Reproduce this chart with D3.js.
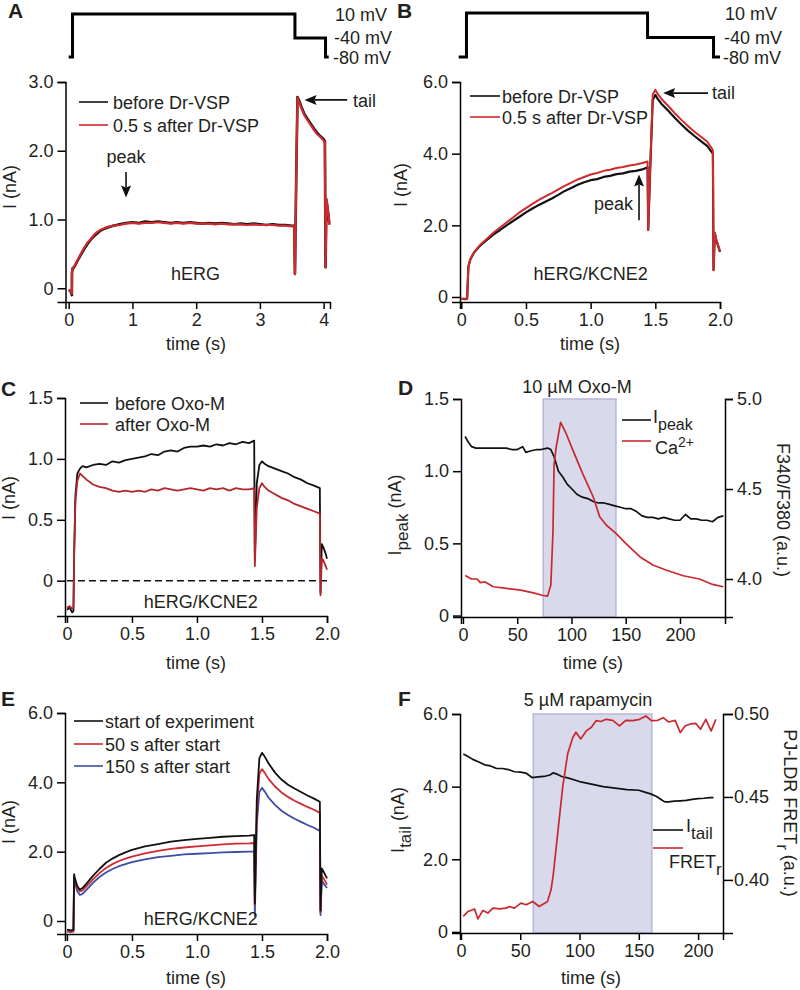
<!DOCTYPE html>
<html><head><meta charset="utf-8">
<script src="https://cdn.jsdelivr.net/npm/d3@7"></script>
<style>body{margin:0;background:#fff}</style>
</head><body><script>
// ---------------- DATA ----------------
const voltLevels = [10, -40, -80];
const voltLabels = ["10 mV", "-40 mV", "-80 mV"];
const protoATime = [0, 0.06, 0.06, 3.55, 3.55, 4.03, 4.03, 4.08];
const protoAVolt = [-80, -80, 10, 10, -40, -40, -80, -80];
const protoBTime = [-0.02, 0.04, 0.04, 1.44, 1.44, 1.95, 1.95, 2.0];
const protoBVolt = [-80, -80, 10, 10, -40, -40, -80, -80];

const tA = [0,0.03,0.05,0.052,0.06,0.08,0.1,0.15,0.2,0.25,0.3,0.35,0.4,0.45,0.5,0.55,0.6,0.7,0.8,0.9,1.0,1.1,1.2,1.3,1.4,1.5,1.6,1.7,1.8,1.9,2.0,2.1,2.2,2.3,2.4,2.5,2.6,2.7,2.8,2.9,3.0,3.1,3.2,3.3,3.4,3.5,3.54,3.55,3.57,3.59,3.62,3.65,3.7,3.75,3.8,3.85,3.9,3.95,4.0,4.02,4.03,4.045,4.07,4.09];
const aBefore = [-0.03,-0.04,-0.1,0.22,0.28,0.3,0.33,0.42,0.5,0.58,0.65,0.71,0.76,0.8,0.84,0.86,0.88,0.91,0.93,0.95,0.96,0.95,0.97,0.96,0.97,0.96,0.95,0.96,0.95,0.96,0.95,0.94,0.95,0.94,0.95,0.94,0.93,0.94,0.93,0.94,0.93,0.92,0.93,0.92,0.92,0.91,0.91,0.21,1.6,2.78,2.72,2.64,2.53,2.46,2.39,2.32,2.26,2.21,2.17,2.14,0.31,1.28,1.1,0.94];
const aAfter = [-0.03,-0.03,-0.08,0.24,0.3,0.31,0.34,0.43,0.52,0.6,0.67,0.72,0.78,0.82,0.85,0.87,0.89,0.91,0.92,0.94,0.95,0.94,0.95,0.95,0.96,0.95,0.94,0.95,0.94,0.95,0.94,0.94,0.94,0.93,0.94,0.93,0.93,0.93,0.92,0.93,0.92,0.92,0.92,0.91,0.91,0.9,0.9,0.2,1.6,2.77,2.7,2.62,2.51,2.44,2.37,2.3,2.24,2.2,2.15,2.12,0.3,1.3,1.12,0.92];

const tB = [0,0.03,0.045,0.05,0.055,0.07,0.1,0.15,0.2,0.25,0.3,0.35,0.4,0.45,0.5,0.55,0.6,0.65,0.7,0.75,0.8,0.85,0.9,0.95,1.0,1.05,1.1,1.15,1.2,1.25,1.3,1.35,1.4,1.44,1.445,1.46,1.48,1.5,1.52,1.55,1.6,1.65,1.7,1.75,1.8,1.85,1.9,1.945,1.95,1.96,1.97,2.0];
const bBefore = [-0.05,-0.06,-0.05,0.4,0.85,1.05,1.25,1.45,1.6,1.75,1.87,2.0,2.12,2.24,2.36,2.47,2.57,2.66,2.75,2.85,2.96,3.04,3.13,3.2,3.26,3.29,3.35,3.38,3.43,3.45,3.5,3.52,3.56,3.62,1.87,3.5,5.5,5.64,5.52,5.38,5.2,5.0,4.82,4.65,4.5,4.36,4.22,4.0,0.75,1.78,1.6,1.26];
const bAfter = [-0.05,-0.05,-0.05,0.4,0.85,1.05,1.26,1.47,1.63,1.8,1.94,2.08,2.22,2.36,2.48,2.6,2.71,2.81,2.9,3.0,3.1,3.19,3.28,3.35,3.42,3.46,3.52,3.55,3.6,3.63,3.67,3.7,3.74,3.78,1.87,3.6,5.65,5.78,5.66,5.52,5.33,5.13,4.95,4.78,4.62,4.48,4.34,4.1,0.75,1.8,1.62,1.28];

const tC = [0,0.02,0.04,0.05,0.055,0.065,0.08,0.1,0.12,0.15,0.2,0.25,0.3,0.35,0.4,0.45,0.5,0.55,0.6,0.65,0.7,0.75,0.8,0.85,0.9,0.95,1.0,1.05,1.1,1.15,1.2,1.25,1.3,1.35,1.4,1.44,1.445,1.46,1.48,1.5,1.52,1.55,1.6,1.65,1.7,1.75,1.8,1.85,1.9,1.945,1.95,1.96,1.97,1.99,2.0];
const cBefore = [-0.24,-0.22,-0.26,-0.25,0.2,0.7,0.88,0.92,0.94,0.93,0.95,0.96,0.95,0.98,0.97,0.99,1.0,1.01,1.02,1.04,1.03,1.06,1.07,1.06,1.09,1.1,1.1,1.11,1.1,1.12,1.11,1.13,1.12,1.14,1.13,1.15,0.17,0.8,0.95,0.98,0.96,0.94,0.92,0.9,0.88,0.85,0.83,0.8,0.78,0.76,-0.1,0.3,0.28,0.22,0.18];
const cAfter = [-0.22,-0.21,-0.23,-0.22,0.2,0.65,0.82,0.88,0.86,0.83,0.79,0.77,0.76,0.74,0.73,0.74,0.73,0.74,0.73,0.75,0.74,0.76,0.75,0.74,0.75,0.76,0.75,0.74,0.76,0.75,0.76,0.74,0.76,0.75,0.75,0.76,0.12,0.6,0.76,0.8,0.77,0.74,0.71,0.68,0.66,0.63,0.61,0.59,0.57,0.55,-0.12,0.18,0.17,0.12,0.09];

const tDpeak = [2,5,8,12,20,30,40,45,50,55,58,62,68,72,78,81,84,88,92,96,100,105,110,115,120,125,130,135,140,145,150,155,160,165,170,175,180,185,190,195,200,205,210,215,220,225,230,235,240];
const dIpeak = [1.24,1.2,1.17,1.16,1.16,1.16,1.16,1.15,1.15,1.17,1.13,1.14,1.15,1.15,1.16,1.15,1.1,1.0,0.96,0.91,0.88,0.84,0.82,0.81,0.79,0.78,0.78,0.77,0.76,0.75,0.74,0.74,0.72,0.69,0.68,0.68,0.67,0.68,0.67,0.66,0.66,0.7,0.67,0.67,0.66,0.66,0.65,0.68,0.69];
const tDca = [2,8,13,16,20,28,40,52,64,73,78,81,83,84,86,90,95,101,110,120,126,132,141,150,163,175,187,203,218,230,240];
const dCa = [4.02,4.0,4.0,3.98,3.985,3.957,3.948,3.94,3.924,3.91,3.905,3.967,4.27,4.64,4.735,4.87,4.81,4.72,4.59,4.457,4.346,4.3,4.254,4.198,4.124,4.078,4.05,4.018,4.0,3.97,3.957];
const oxoWindow = [74, 141];

const tE = [0,0.03,0.05,0.055,0.06,0.08,0.1,0.12,0.15,0.2,0.25,0.3,0.35,0.4,0.45,0.5,0.6,0.7,0.8,0.9,1.0,1.1,1.2,1.3,1.4,1.44,1.445,1.46,1.48,1.5,1.52,1.55,1.6,1.65,1.7,1.75,1.8,1.85,1.9,1.945,1.95,1.96,1.97,1.99,2.0];
const eStart = [-0.25,-0.27,-0.25,1.35,1.25,1.0,0.9,0.95,1.08,1.3,1.5,1.68,1.8,1.9,1.98,2.05,2.15,2.22,2.29,2.33,2.37,2.4,2.43,2.45,2.46,2.48,0.5,3.5,4.7,4.85,4.75,4.55,4.28,4.08,3.93,3.82,3.72,3.62,3.53,3.44,0.3,1.52,1.45,1.3,1.23];
const e50 = [-0.3,-0.3,-0.3,1.3,1.2,0.95,0.85,0.88,1.0,1.2,1.38,1.53,1.64,1.73,1.8,1.86,1.95,2.02,2.08,2.12,2.15,2.18,2.21,2.23,2.24,2.25,0.45,3.2,4.25,4.38,4.28,4.1,3.88,3.71,3.58,3.47,3.38,3.29,3.21,3.12,0.25,1.3,1.25,1.12,1.05];
const e150 = [-0.3,-0.32,-0.3,1.2,1.1,0.85,0.75,0.78,0.9,1.1,1.27,1.4,1.5,1.58,1.64,1.7,1.78,1.84,1.88,1.92,1.94,1.96,1.98,1.99,2.0,2.0,0.15,2.8,3.72,3.84,3.74,3.56,3.35,3.18,3.06,2.95,2.86,2.77,2.69,2.6,0.17,1.18,1.1,1.0,0.95];

const tFtail = [2,6,10,15,20,25,30,35,40,45,50,55,60,65,70,75,78,82,85,90,100,110,120,130,140,150,155,160,165,170,172,175,180,185,190,195,200,205,210,213];
const fItail = [4.9,4.83,4.75,4.68,4.6,4.57,4.5,4.5,4.47,4.41,4.4,4.37,4.25,4.27,4.28,4.32,4.38,4.33,4.28,4.24,4.14,4.07,4.0,3.96,3.92,3.9,3.85,3.8,3.73,3.62,3.58,3.58,3.6,3.61,3.62,3.65,3.67,3.68,3.7,3.7];
const tFret = [2,6,11.5,14.3,18.5,22.7,27,32.6,38,41,45,50.6,55,60.5,66,73,76,78,81.6,85.8,90,94.4,97,101,106,110,114,118,122.5,128,133.7,139,145,150.6,156,160.6,166,170.6,175,180.7,185,189,193.5,198,202,206.5,211,215];
const fFret = [0.378,0.381,0.3825,0.3765,0.3816,0.380,0.383,0.3825,0.383,0.384,0.383,0.386,0.385,0.387,0.384,0.387,0.394,0.404,0.428,0.456,0.476,0.486,0.489,0.485,0.49,0.492,0.496,0.4955,0.4968,0.4962,0.4928,0.4962,0.496,0.4968,0.4988,0.496,0.4962,0.4978,0.4952,0.4962,0.4888,0.4928,0.494,0.4944,0.4908,0.4968,0.4898,0.4968];
const rapaWindow = [61, 161];

const ticksA_x = [0,1,2,3,4], ticksA_y = [0,1,2,3];
const ticksB_x = [0,0.5,1,1.5,2], ticksB_y = [0,2,4,6];
const ticksC_y = [0,0.5,1,1.5];
const ticksD_x = [0,50,100,150,200], ticksD_y2 = [4.0,4.5,5.0];
const ticksE_y = [0,2,4,6];
const ticksF_y2 = [0.40,0.45,0.50];

// ---------------- DRAWING ----------------
const FONT = '"Liberation Sans", Arial, Helvetica, sans-serif';
const FS = 18;
const TXT = "#231f20";
const BLACK = "#111";
const RED = "#d02a2e";
const DARKRED = "#b3262b";
const BLUE = "#3d4ca6";

const svg = d3.select("body").append("svg").attr("width", 800).attr("height", 990)
  .style("background", "#fff").attr("font-family", FONT);

function fmt1(d){ return d === 0 ? "0" : d3.format(".1f")(d); }
function fmt0(d){ return String(d); }

function style(g){
  g.selectAll("path.domain, line").attr("stroke", "#000").attr("stroke-width", 1.5);
  g.selectAll("text").attr("font-size", FS).attr("fill", TXT).attr("font-family", FONT);
}
function bottomAxis(x, y0, ticks, f){
  const g = svg.append("g").attr("transform", `translate(0,${y0})`)
    .call(d3.axisBottom(x).tickValues(ticks).tickFormat(f).tickSizeOuter(0).tickSize(7).tickPadding(4));
  style(g); return g;
}
function leftAxis(y, x0, ticks, f){
  const g = svg.append("g").attr("transform", `translate(${x0},0)`)
    .call(d3.axisLeft(y).tickValues(ticks).tickFormat(f).tickSizeOuter(0).tickSize(8).tickPadding(4));
  style(g); return g;
}
function rightAxis(y, x0, ticks, f, size, pad){
  const g = svg.append("g").attr("transform", `translate(${x0},0)`)
    .call(d3.axisRight(y).tickValues(ticks).tickFormat(f).tickSizeOuter(0).tickSize(size).tickPadding(pad));
  style(g); return g;
}
function trace(x, y, ts, vs, color, w){
  svg.append("path").datum(ts.map((t, i) => [t, vs[i]]))
    .attr("d", d3.line().x(d => x(d[0])).y(d => y(d[1])))
    .attr("fill", "none").attr("stroke", color).attr("stroke-width", w)
    .attr("stroke-linejoin", "round");
}
function text(x, y, s, opt = {}){
  return svg.append("text").attr("x", x).attr("y", y).text(s)
    .attr("font-size", opt.size || FS).attr("fill", TXT)
    .attr("font-weight", opt.bold ? "bold" : null)
    .attr("text-anchor", opt.anchor || "start");
}
function rich(x, y, parts, opt = {}){
  const t = svg.append("text").attr("font-size", FS).attr("fill", TXT)
    .attr("text-anchor", opt.anchor || "start");
  if (opt.rotate) t.attr("transform", `translate(${x},${y}) rotate(${opt.rotate})`);
  else t.attr("x", x).attr("y", y);
  parts.forEach(p => {
    const ts = t.append("tspan").text(p.s);
    if (p.dy) ts.attr("dy", p.dy);
    if (p.dx) ts.attr("dx", p.dx);
    if (p.size) ts.attr("font-size", p.size);
  });
  return t;
}
function legendLine(x1, x2, y, color){
  svg.append("line").attr("x1", x1).attr("x2", x2).attr("y1", y).attr("y2", y)
    .attr("stroke", color).attr("stroke-width", 1.6);
}
function arrow(x1, y1, x2, y2){
  const ang = Math.atan2(y2 - y1, x2 - x1), L = 12, H = 5;
  const bx = x2 - L * Math.cos(ang), by = y2 - L * Math.sin(ang);
  svg.append("line").attr("x1", x1).attr("y1", y1).attr("x2", bx + 2*Math.cos(ang)).attr("y2", by + 2*Math.sin(ang))
    .attr("stroke", "#111").attr("stroke-width", 1.6);
  const px = -Math.sin(ang) * H, py = Math.cos(ang) * H;
  svg.append("path").attr("d", `M${x2},${y2}L${bx+px},${by+py}L${bx+2*Math.cos(ang)},${by+2*Math.sin(ang)}L${bx-px},${by-py}Z`)
    .attr("fill", "#111");
}
function protocol(x, v, ts, vs, labelX){
  svg.append("path").datum(ts.map((t, i) => [t, vs[i]]))
    .attr("d", d3.line().x(d => x(d[0])).y(d => v(d[1])))
    .attr("fill", "none").attr("stroke", "#000").attr("stroke-width", 3).attr("stroke-linejoin", "miter");
  voltLevels.forEach((lv, i) => text(labelX - i, v(lv) + 6.5, voltLabels[i]));
}

// ----- Panel A -----
const xA = d3.scaleLinear().domain([-0.05, 4.1]).range([65.5, 330]);
const yA = d3.scaleLinear().domain([-0.2, 3.0]).range([302, 82]);
const vA = d3.scaleLinear().domain([-80, 10]).range([57, 14]);
text(8, 18, "A", {bold: true, size: 21});
protocol(xA, vA, protoATime, protoAVolt, 335);
bottomAxis(xA, 302, ticksA_x, fmt0);
leftAxis(yA, 65.5, ticksA_y, fmt1);
trace(xA, yA, tA, aBefore, BLACK, 2.6);
trace(xA, yA, tA, aAfter, RED, 2.2);
legendLine(79, 108, 102, BLACK); text(113, 108.5, "before Dr-VSP");
legendLine(79, 108, 125, RED); text(113, 131.5, "0.5 s after Dr-VSP");
text(xA(0.9), 163, "peak", {anchor: "middle"});
arrow(xA(0.9), yA(1.69), xA(0.9), yA(1.32));
arrow(xA(4.37), yA(2.74), xA(3.7), yA(2.74));
text(353, 107, "tail");
text(xA(1.99), 280, "hERG", {anchor: "middle"});
text(196, 350, "time (s)", {anchor: "middle"});
rich(16, 187, [{s: "I (nA)"}], {rotate: -90, anchor: "middle"});

// ----- Panel B -----
const xB = d3.scaleLinear().domain([-0.01, 2.0]).range([460, 720]);
const yB = d3.scaleLinear().domain([-0.14, 6.0]).range([302, 82]);
const vB = d3.scaleLinear().domain([-80, 10]).range([57, 13]);
text(397, 18, "B", {bold: true, size: 21});
protocol(xB, vB, protoBTime, protoBVolt, 725);
bottomAxis(xB, 302, ticksB_x, fmt1);
leftAxis(yB, 460, ticksB_y, fmt1);
trace(xB, yB, tB, bBefore, BLACK, 2.2);
trace(xB, yB, tB, bAfter, RED, 2.0);
legendLine(470, 500, 96, BLACK); text(502, 102.5, "before Dr-VSP");
legendLine(470, 500, 117, RED); text(502, 123.5, "0.5 s after Dr-VSP");
arrow(xB(1.374), yB(2.14), xB(1.374), yB(3.42));
text(633, 210, "peak", {anchor: "end"});
arrow(xB(1.907), yB(5.69), xB(1.56), yB(5.69));
text(712, 99, "tail");
text(xB(1.0), 280, "hERG/KCNE2", {anchor: "middle"});
text(590, 350, "time (s)", {anchor: "middle"});
rich(407, 185, [{s: "I (nA)"}], {rotate: -90, anchor: "middle"});

// ----- Panel C -----
const xC = d3.scaleLinear().domain([-0.015, 2.0]).range([65, 327]);
const yC = d3.scaleLinear().domain([-0.29, 1.5]).range([616, 398]);
text(1, 396, "C", {bold: true, size: 21});
bottomAxis(xC, 616, ticksB_x, fmt1);
leftAxis(yC, 65, ticksC_y, fmt1);
svg.append("line").attr("x1", xC(0)).attr("x2", xC(2.0)).attr("y1", yC(0)).attr("y2", yC(0))
  .attr("stroke", "#111").attr("stroke-width", 1.5).attr("stroke-dasharray", "7,4");
trace(xC, yC, tC, cBefore, BLACK, 1.8);
trace(xC, yC, tC, cAfter, DARKRED, 1.8);
legendLine(80, 108, 403, BLACK); text(115, 409.5, "before Oxo-M");
legendLine(80, 108, 424, DARKRED); text(115, 430.5, "after Oxo-M");
text(xC(1.03), 608, "hERG/KCNE2", {anchor: "middle"});
text(196, 669, "time (s)", {anchor: "middle"});
rich(15, 498, [{s: "I (nA)"}], {rotate: -90, anchor: "middle"});

// ----- Panel D -----
const xD = d3.scaleLinear().domain([-1.8, 241.5]).range([461, 725]);
const yD = d3.scaleLinear().domain([-0.01, 1.5]).range([617, 399]);
const yD2 = d3.scaleLinear().domain([3.789, 5.0]).range([617, 399]);
text(398, 395, "D", {bold: true, size: 21});
svg.append("rect").attr("x", xD(oxoWindow[0])).attr("y", yD(1.5))
  .attr("width", xD(oxoWindow[1]) - xD(oxoWindow[0])).attr("height", yD(-0.01) - yD(1.5))
  .attr("fill", "#d9d9ec").attr("stroke", "#b7b7dc").attr("stroke-width", 1.5);
bottomAxis(xD, 617, ticksD_x, fmt0);
leftAxis(yD, 461, ticksC_y, fmt1);
rightAxis(yD2, 725, ticksD_y2, d3.format(".1f"), 8, 4);
trace(xD, yD, tDpeak, dIpeak, BLACK, 1.7);
trace(xD, yD2, tDca, dCa, "#c8282e", 1.7);
text(577, 393, "10 µM Oxo-M", {anchor: "middle"});
legendLine(622, 651, 420, BLACK);
rich(653, 423, [{s: "I"}, {s: "peak", dy: 7, size: 16}]);
legendLine(622, 651, 441, "#c8282e");
rich(655, 454, [{s: "Ca"}, {s: "2+", dy: -7, size: 14}]);
text(593, 669, "time (s)", {anchor: "middle"});
rich(401, 515, [{s: "I"}, {s: "peak", dy: 7, size: 17}, {s: " (nA)", dy: -7}], {rotate: -90, anchor: "middle"});
rich(777, 510, [{s: "F340/F380 (a.u.)"}], {rotate: 90, anchor: "middle"});

// ----- Panel E -----
const xE = d3.scaleLinear().domain([-0.015, 2.0]).range([65, 327]);
const yE = d3.scaleLinear().domain([-0.375, 6.0]).range([934, 713]);
text(1, 706, "E", {bold: true, size: 21});
bottomAxis(xE, 934, ticksB_x, fmt1);
leftAxis(yE, 65, ticksE_y, fmt1);
trace(xE, yE, tE, e150, BLUE, 1.8);
trace(xE, yE, tE, e50, RED, 1.8);
trace(xE, yE, tE, eStart, BLACK, 1.8);
legendLine(74, 103, 721, BLACK); text(105, 727.5, "start of experiment");
legendLine(74, 103, 744, RED); text(105, 750.5, "50 s after start");
legendLine(74, 103, 766, BLUE); text(105, 772.5, "150 s after start");
text(xE(1.03), 925, "hERG/KCNE2", {anchor: "middle"});
text(196, 984, "time (s)", {anchor: "middle"});
rich(15, 822, [{s: "I (nA)"}], {rotate: -90, anchor: "middle"});

// ----- Panel F -----
const xF = d3.scaleLinear().domain([-0.8, 221]).range([460, 723]);
const yF = d3.scaleLinear().domain([-0.03, 6.0]).range([933, 714]);
const yF2 = d3.scaleLinear().domain([0.368, 0.50]).range([933, 714]);
text(398, 706, "F", {bold: true, size: 21});
svg.append("rect").attr("x", xF(rapaWindow[0])).attr("y", yF(6.0))
  .attr("width", xF(rapaWindow[1]) - xF(rapaWindow[0])).attr("height", yF(-0.03) - yF(6.0))
  .attr("fill", "#d9d9ec").attr("stroke", "#b7b7dc").attr("stroke-width", 1.5);
bottomAxis(xF, 933, ticksD_x, fmt0);
leftAxis(yF, 460, ticksE_y, fmt1);
rightAxis(yF2, 723, ticksF_y2, d3.format(".2f"), 10, 1);
trace(xF, yF, tFtail, fItail, BLACK, 1.7);
trace(xF, yF2, tFret, fFret, "#c8282e", 1.7);
text(588, 706, "5 µM rapamycin", {anchor: "middle"});
legendLine(653, 683, 830, BLACK);
rich(686, 832, [{s: "I"}, {s: "tail", dy: 7, size: 17}]);
legendLine(653, 683, 848, "#c8282e");
rich(669, 868, [{s: "FRET"}, {s: "r", dy: 7, size: 17}]);
text(591, 984, "time (s)", {anchor: "middle"});
rich(404, 820, [{s: "I"}, {s: "tail", dy: 7, size: 17}, {s: " (nA)", dy: -7}], {rotate: -90, anchor: "middle"});
rich(784, 813, [{s: "PJ-LDR FRET"}, {s: "r", dy: 7, size: 17}, {s: " (a.u.)", dy: -7}], {rotate: 90, anchor: "middle"});
</script></body></html>
